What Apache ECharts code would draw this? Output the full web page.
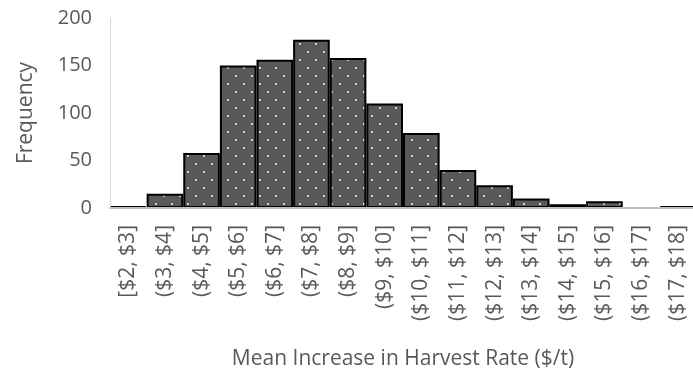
<!DOCTYPE html>
<html>
<head>
<meta charset="utf-8">
<script src="https://cdn.jsdelivr.net/npm/echarts@6/dist/echarts.min.js"></script>
<style>
  html, body { margin: 0; padding: 0; background: #ffffff; }
  #chart { width: 693px; height: 374px; }
</style>
</head>
<body>
<div id="chart"></div>
<script>
// Histogram bins of the mean increase in harvest rate
const binLabels = [
  '[$2, $3]', '($3, $4]', '($4, $5]', '($5, $6]', '($6, $7]', '($7, $8]',
  '($8, $9]', '($9, $10]', '($10, $11]', '($11, $12]', '($12, $13]',
  '($13, $14]', '($14, $15]', '($15, $16]', '($16, $17]', '($17, $18]'
];
const frequencies = [2, 15, 58, 150, 156, 177, 158, 110, 79, 40, 24, 10, 4, 7, 0, 2];
const yTicks = [0, 50, 100, 150, 200];

// Dark grey fill with a staggered grid of light dots
function dotPattern() {
  const c = document.createElement('canvas');
  c.width = 16; c.height = 16;
  const g = c.getContext('2d');
  g.fillStyle = '#595959';
  g.fillRect(0, 0, 16, 16);
  g.fillStyle = '#bdbdbd';
  g.fillRect(3, 3, 2, 2);
  g.fillRect(11, 11, 2, 2);
  g.fillStyle = '#ffffff';
  g.fillRect(3, 3, 1, 1);
  g.fillRect(11, 11, 1, 1);
  return c;
}

const font = '"Open Sans", "Noto Sans", sans-serif';
const chart = echarts.init(document.getElementById('chart'), null, { renderer: 'canvas' });

const barData = frequencies.map(v => v === 0
  ? { value: v, itemStyle: { borderWidth: 0 } }
  : v);

chart.setOption({
  animation: false,
  backgroundColor: '#ffffff',
  grid: {
    left: 110, top: 18, width: 586, height: 190,
    containLabel: false, outerBoundsMode: 'none'
  },
  xAxis: {
    type: 'category',
    data: binLabels,
    z: 10,
    axisLine: { show: true, lineStyle: { color: '#bfbfbf', width: 2 } },
    axisTick: { show: false },
    axisLabel: {
      rotate: 90,
      interval: 0,
      margin: 17,
      color: '#595959',
      fontSize: 21,
      fontFamily: font
    },
    name: 'Mean Increase in Harvest Rate ($/t)',
    nameLocation: 'middle',
    nameGap: 141,
    nameTextStyle: { color: '#595959', fontSize: 21, fontFamily: font }
  },
  yAxis: {
    type: 'value',
    min: yTicks[0],
    max: yTicks[yTicks.length - 1],
    interval: yTicks[1] - yTicks[0],
    axisLine: { show: true, lineStyle: { color: '#d9d9d9', width: 1 } },
    axisTick: { show: false },
    splitLine: { show: false },
    axisLabel: { margin: 18, color: '#595959', fontSize: 20, fontFamily: font },
    name: 'Frequency',
    nameLocation: 'middle',
    nameGap: 73,
    nameTextStyle: { color: '#595959', fontSize: 21, fontFamily: font }
  },
  series: [{
    type: 'bar',
    data: barData,
    barCategoryGap: '0%',
    itemStyle: {
      color: { image: dotPattern(), repeat: 'repeat' },
      borderColor: '#000000',
      borderWidth: 2
    }
  }]
});
</script>
</body>
</html>
